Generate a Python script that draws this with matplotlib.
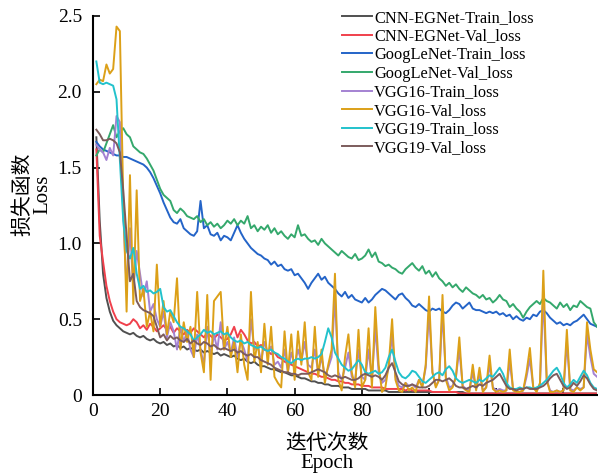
import numpy as np
import matplotlib
matplotlib.use("Agg")
import matplotlib.pyplot as plt
from matplotlib.ticker import FuncFormatter

plt.rcParams['font.family'] = ['Liberation Serif', 'Noto Sans CJK SC']
plt.rcParams['axes.unicode_minus'] = False

epochs = np.arange(1, 151)

cnn_train = [
    1.70, 1.15, 0.80, 0.64, 0.55, 0.49, 0.46, 0.44, 0.42, 0.41,
    0.40, 0.41, 0.39, 0.38, 0.39, 0.37, 0.36, 0.37, 0.35, 0.34,
    0.35, 0.33, 0.34, 0.32, 0.33, 0.31, 0.32, 0.30, 0.31, 0.30,
    0.29, 0.30, 0.28, 0.29, 0.28, 0.27, 0.28, 0.26, 0.27, 0.26,
    0.25, 0.26, 0.24, 0.23, 0.24, 0.22, 0.21, 0.22, 0.20, 0.19,
    0.19, 0.18, 0.17, 0.17, 0.16, 0.15, 0.15, 0.14, 0.13, 0.13,
    0.12, 0.11, 0.11, 0.10, 0.09, 0.09, 0.08, 0.08, 0.07, 0.07,
    0.06, 0.06, 0.06, 0.05, 0.05, 0.05, 0.04, 0.04, 0.04, 0.04,
    0.04, 0.03, 0.03, 0.03, 0.03, 0.03, 0.03, 0.02, 0.02, 0.02,
    0.02, 0.02, 0.02, 0.02, 0.02, 0.02, 0.02, 0.02, 0.02, 0.02,
    0.02, 0.02, 0.02, 0.02, 0.02, 0.02, 0.02, 0.02, 0.02, 0.02,
    0.01, 0.01, 0.01, 0.01, 0.01, 0.01, 0.01, 0.01, 0.01, 0.01,
    0.01, 0.01, 0.01, 0.01, 0.01, 0.01, 0.01, 0.01, 0.01, 0.01,
    0.01, 0.01, 0.01, 0.01, 0.01, 0.01, 0.01, 0.01, 0.01, 0.01,
    0.01, 0.01, 0.01, 0.01, 0.01, 0.01, 0.01, 0.01, 0.01, 0.01,
]

cnn_val = [
    1.62, 1.05, 0.88, 0.72, 0.62, 0.55, 0.50, 0.48, 0.47, 0.46,
    0.47, 0.50, 0.48, 0.44, 0.46, 0.43, 0.47, 0.45, 0.42, 0.44,
    0.46, 0.43, 0.45, 0.41, 0.44, 0.42, 0.40, 0.43, 0.41, 0.44,
    0.42, 0.40, 0.38, 0.41, 0.39, 0.37, 0.40, 0.38, 0.36, 0.37,
    0.40, 0.45, 0.38, 0.43, 0.40, 0.36, 0.34, 0.35, 0.32, 0.33,
    0.30, 0.29, 0.27, 0.28, 0.25, 0.24, 0.22, 0.21, 0.20, 0.19,
    0.18, 0.17, 0.16, 0.15, 0.14, 0.14, 0.13, 0.12, 0.12, 0.11,
    0.10, 0.10, 0.09, 0.09, 0.08, 0.08, 0.07, 0.07, 0.07, 0.06,
    0.06, 0.06, 0.05, 0.05, 0.05, 0.05, 0.04, 0.04, 0.04, 0.04,
    0.04, 0.04, 0.03, 0.04, 0.03, 0.03, 0.03, 0.03, 0.03, 0.03,
    0.02, 0.02, 0.02, 0.02, 0.02, 0.02, 0.02, 0.02, 0.01, 0.01,
    0.01, 0.01, 0.01, 0.01, 0.01, 0.01, 0.01, 0.01, 0.01, 0.01,
    0.01, 0.01, 0.01, 0.01, 0.01, 0.01, 0.01, 0.01, 0.01, 0.01,
    0.01, 0.01, 0.01, 0.01, 0.01, 0.01, 0.01, 0.01, 0.01, 0.01,
    0.01, 0.01, 0.01, 0.01, 0.01, 0.01, 0.01, 0.01, 0.01, 0.01,
]

goog_train = [
    1.67, 1.64, 1.62, 1.61, 1.60, 1.59, 1.58, 1.58, 1.57, 1.57,
    1.56, 1.55, 1.54, 1.53, 1.52, 1.50, 1.47, 1.43, 1.38, 1.33,
    1.27, 1.22, 1.17, 1.14, 1.13, 1.16, 1.10, 1.08, 1.06, 1.05,
    1.08, 1.28, 1.10, 1.12, 1.06, 1.05, 1.07, 1.02, 1.05, 1.04,
    1.02, 1.07, 1.12, 1.07, 1.03, 1.00, 0.97, 0.95, 0.93, 0.92,
    0.90, 0.89, 0.86, 0.88, 0.85, 0.86, 0.83, 0.82, 0.83, 0.79,
    0.80, 0.77, 0.74, 0.70, 0.74, 0.77, 0.80, 0.76, 0.78, 0.74,
    0.72, 0.70, 0.67, 0.65, 0.68, 0.64, 0.66, 0.63, 0.62, 0.61,
    0.64, 0.61, 0.63, 0.66, 0.68, 0.70, 0.69, 0.67, 0.65, 0.63,
    0.66, 0.67, 0.64, 0.62, 0.59, 0.58, 0.60, 0.58, 0.56, 0.55,
    0.57, 0.56, 0.57, 0.55, 0.54, 0.56, 0.59, 0.61, 0.60, 0.57,
    0.59, 0.61, 0.57, 0.56, 0.56, 0.55, 0.54, 0.55, 0.54, 0.55,
    0.53, 0.54, 0.52, 0.53, 0.50, 0.52, 0.50, 0.49, 0.51, 0.50,
    0.53, 0.52, 0.55, 0.56, 0.54, 0.51, 0.49, 0.47, 0.48, 0.46,
    0.47, 0.46, 0.48, 0.49, 0.51, 0.53, 0.50, 0.47, 0.46, 0.45,
]

goog_val = [
    1.58, 1.62, 1.60, 1.66, 1.72, 1.78, 1.70, 1.74, 1.76, 1.72,
    1.70, 1.64, 1.62, 1.60, 1.59, 1.56, 1.52, 1.48, 1.42, 1.36,
    1.32, 1.30, 1.28, 1.22, 1.20, 1.23, 1.21, 1.18, 1.17, 1.16,
    1.18, 1.14, 1.16, 1.12, 1.14, 1.11, 1.13, 1.10, 1.12, 1.15,
    1.13, 1.16, 1.12, 1.15, 1.13, 1.18, 1.10, 1.12, 1.08, 1.11,
    1.09, 1.12, 1.07, 1.10, 1.06, 1.08, 1.05, 1.03, 1.06, 1.04,
    1.12, 1.05, 1.06, 1.03, 1.01, 1.02, 0.99, 1.03, 1.00, 0.98,
    0.96, 0.94, 0.92, 0.95, 0.93, 0.91, 0.90, 0.93, 0.89, 0.90,
    0.92, 0.96, 0.91, 0.94, 0.88, 0.87, 0.85, 0.86, 0.84, 0.83,
    0.81, 0.80, 0.83, 0.85, 0.87, 0.84, 0.82, 0.85, 0.80, 0.82,
    0.78, 0.81, 0.77, 0.75, 0.72, 0.74, 0.71, 0.73, 0.70, 0.68,
    0.71, 0.69, 0.67, 0.66, 0.64, 0.66, 0.63, 0.64, 0.61, 0.63,
    0.66, 0.63, 0.62, 0.58, 0.60, 0.57, 0.55, 0.51, 0.55, 0.58,
    0.60, 0.62, 0.60, 0.64, 0.62, 0.61, 0.59, 0.57, 0.61, 0.58,
    0.60, 0.56, 0.59, 0.58, 0.62, 0.60, 0.58, 0.57, 0.48, 0.45,
]

vgg16_train = [
    1.65, 1.62, 1.60, 1.55, 1.63, 1.58, 1.84, 1.80, 1.20, 0.70,
    1.10, 0.70, 0.95, 0.80, 0.65, 0.75, 0.55, 0.60, 0.50, 0.45,
    0.55, 0.38, 0.48, 0.42, 0.30, 0.45, 0.35, 0.42, 0.30, 0.25,
    0.40, 0.30, 0.20, 0.45, 0.25, 0.40, 0.30, 0.48, 0.30, 0.35,
    0.28, 0.38, 0.25, 0.36, 0.30, 0.22, 0.50, 0.30, 0.33, 0.22,
    0.35, 0.28, 0.32, 0.20, 0.22, 0.18, 0.30, 0.15, 0.28, 0.20,
    0.30, 0.22, 0.35, 0.20, 0.18, 0.30, 0.15, 0.25, 0.12, 0.18,
    0.25, 0.65, 0.15, 0.10, 0.18, 0.28, 0.12, 0.10, 0.30, 0.12,
    0.10, 0.30, 0.10, 0.45, 0.15, 0.08, 0.10, 0.18, 0.40, 0.12,
    0.06, 0.05, 0.08, 0.06, 0.07, 0.05, 0.10, 0.06, 0.18, 0.55,
    0.15, 0.06, 0.10, 0.55, 0.12, 0.05, 0.06, 0.12, 0.30, 0.06,
    0.04, 0.03, 0.15, 0.04, 0.14, 0.03, 0.05, 0.20, 0.05, 0.03,
    0.04, 0.03, 0.03, 0.22, 0.04, 0.02, 0.02, 0.03, 0.12, 0.24,
    0.05, 0.03, 0.07, 0.65, 0.10, 0.03, 0.02, 0.03, 0.02, 0.03,
    0.35, 0.04, 0.03, 0.05, 0.04, 0.05, 0.40, 0.25, 0.14, 0.12,
]

vgg16_val = [
    2.05, 2.08, 2.07, 2.18, 2.12, 2.15, 2.43, 2.40, 1.30, 0.55,
    1.45, 0.60, 1.35, 0.62, 0.70, 0.45, 0.55, 0.42, 0.86, 0.45,
    0.62, 0.40, 0.55, 0.48, 0.77, 0.30, 0.48, 0.35, 0.45, 0.25,
    0.68, 0.28, 0.15, 0.66, 0.10, 0.62, 0.65, 0.68, 0.30, 0.45,
    0.25, 0.35, 0.15, 0.40, 0.20, 0.10, 0.68, 0.22, 0.35, 0.15,
    0.47, 0.20, 0.45, 0.12, 0.08, 0.05, 0.42, 0.15, 0.40, 0.10,
    0.42, 0.20, 0.48, 0.15, 0.10, 0.45, 0.12, 0.30, 0.08, 0.20,
    0.30, 0.80, 0.10, 0.03, 0.25, 0.40, 0.15, 0.05, 0.43, 0.05,
    0.10, 0.44, 0.05, 0.58, 0.20, 0.02, 0.05, 0.20, 0.50, 0.10,
    0.03, 0.02, 0.08, 0.03, 0.05, 0.02, 0.10, 0.05, 0.20, 0.65,
    0.15, 0.05, 0.10, 0.66, 0.10, 0.03, 0.05, 0.12, 0.38, 0.05,
    0.03, 0.02, 0.20, 0.03, 0.18, 0.02, 0.05, 0.26, 0.04, 0.02,
    0.03, 0.02, 0.03, 0.30, 0.03, 0.02, 0.02, 0.03, 0.15, 0.31,
    0.05, 0.02, 0.08, 0.82, 0.10, 0.02, 0.02, 0.03, 0.02, 0.03,
    0.43, 0.03, 0.02, 0.05, 0.03, 0.05, 0.48, 0.30, 0.17, 0.15,
]

vgg19_train = [
    2.20, 2.06, 2.05, 2.06, 2.05, 2.04, 1.95, 1.55, 1.15, 0.95,
    0.90, 0.97, 0.80, 0.70, 0.72, 0.68, 0.69, 0.67, 0.68, 0.70,
    0.58, 0.55, 0.56, 0.52, 0.48, 0.45, 0.44, 0.42, 0.40, 0.36,
    0.38, 0.40, 0.43, 0.41, 0.42, 0.40, 0.41, 0.42, 0.40, 0.41,
    0.38, 0.36, 0.35, 0.36, 0.34, 0.35, 0.33, 0.32, 0.31, 0.32,
    0.30, 0.29, 0.30, 0.28, 0.27, 0.25, 0.24, 0.22, 0.21, 0.23,
    0.24, 0.23, 0.24, 0.24, 0.25, 0.24, 0.25, 0.27, 0.35, 0.44,
    0.38, 0.28, 0.24, 0.20, 0.18, 0.16, 0.17, 0.20, 0.23, 0.20,
    0.15, 0.14, 0.15, 0.16, 0.14, 0.15, 0.18, 0.25, 0.30, 0.22,
    0.15, 0.12, 0.11, 0.13, 0.16, 0.15, 0.12, 0.09, 0.08, 0.10,
    0.12, 0.14, 0.15, 0.13, 0.17, 0.19, 0.16, 0.11, 0.09, 0.08,
    0.09, 0.10, 0.09, 0.08, 0.10, 0.09, 0.11, 0.13, 0.12, 0.15,
    0.18, 0.14, 0.08, 0.05, 0.04, 0.04, 0.05, 0.04, 0.05, 0.05,
    0.04, 0.05, 0.06, 0.08, 0.10, 0.13, 0.16, 0.18, 0.14, 0.08,
    0.05, 0.07, 0.10, 0.08, 0.12, 0.16, 0.13, 0.08, 0.05, 0.04,
]

vgg19_val = [
    1.75, 1.72, 1.68, 1.68, 1.69, 1.68, 1.66, 1.60, 1.35, 1.05,
    0.75, 0.80, 0.62, 0.58, 0.56, 0.55, 0.54, 0.52, 0.45, 0.38,
    0.40, 0.36, 0.39, 0.37, 0.38, 0.36, 0.35, 0.37, 0.34, 0.36,
    0.34, 0.33, 0.35, 0.34, 0.32, 0.33, 0.31, 0.30, 0.31, 0.30,
    0.29, 0.30, 0.28, 0.29, 0.27, 0.26, 0.27, 0.25, 0.25, 0.23,
    0.22, 0.21, 0.20, 0.18, 0.17, 0.16, 0.15, 0.15, 0.14, 0.14,
    0.13, 0.14, 0.14, 0.14, 0.15, 0.16, 0.17, 0.16, 0.15, 0.13,
    0.12, 0.13, 0.12, 0.11, 0.12, 0.11, 0.10, 0.10, 0.11, 0.13,
    0.14, 0.13, 0.12, 0.13, 0.12, 0.10, 0.13, 0.18, 0.21, 0.15,
    0.09, 0.07, 0.06, 0.06, 0.07, 0.06, 0.05, 0.05, 0.05, 0.06,
    0.08, 0.10, 0.10, 0.09, 0.10, 0.11, 0.09, 0.06, 0.05, 0.05,
    0.04, 0.05, 0.06, 0.05, 0.07, 0.06, 0.08, 0.09, 0.10, 0.12,
    0.14, 0.10, 0.06, 0.04, 0.04, 0.03, 0.04, 0.04, 0.05, 0.04,
    0.04, 0.04, 0.05, 0.06, 0.08, 0.11, 0.13, 0.14, 0.10, 0.06,
    0.04, 0.05, 0.08, 0.06, 0.09, 0.13, 0.11, 0.07, 0.04, 0.03,
]

labels = ['CNN-EGNet-Train_loss', 'CNN-EGNet-Val_loss',
          'GoogLeNet-Train_loss', 'GoogLeNet-Val_loss',
          'VGG16-Train_loss', 'VGG16-Val_loss',
          'VGG19-Train_loss', 'VGG19-Val_loss']
series = [cnn_train, cnn_val, goog_train, goog_val,
          vgg16_train, vgg16_val, vgg19_train, vgg19_val]
colors = ['#505050', '#f0404c', '#2464c8', '#34a86c',
          '#a482d2', '#dca018', '#22c2cc', '#7c5c5c']

fig = plt.figure(figsize=(5.98, 4.75), dpi=100)
ax = fig.add_axes([0.1555, 0.1684, 0.843, 0.798])

for y, c, lab in zip(series, colors, labels):
    ax.plot(epochs, y, color=c, lw=1.4, label=lab)

ax.set_xlim(0, 150)
ax.set_ylim(0, 2.5)
ax.set_xticks(np.arange(0, 141, 20))
ax.set_yticks([0, 0.5, 1.0, 1.5, 2.0, 2.5])
ax.yaxis.set_major_formatter(FuncFormatter(lambda v, p: '0' if v == 0 else f'{v:.1f}'))
ax.tick_params(direction='in', length=5, width=1.2, labelsize=14)
ax.tick_params(axis='x', pad=6)
ax.tick_params(axis='y', pad=8)
for s in ['top', 'right']:
    ax.spines[s].set_visible(False)
for s in ['left', 'bottom']:
    ax.spines[s].set_linewidth(1.5)

ax.set_xlabel('迭代次数\nEpoch', fontsize=15, linespacing=1.0)
ax.xaxis.set_label_coords(0.465, -0.105, transform=ax.transAxes)
ax.xaxis.label.set_va('top')
ax.set_ylabel('损失函数\nLoss', fontsize=15, linespacing=1.0)
ax.yaxis.label.set_va('center')
ax.yaxis.set_label_coords(-0.12, 0.53, transform=ax.transAxes)

ax.legend(loc='upper left', bbox_to_anchor=(0.465, 1.055), frameon=False,
          fontsize=11.8, handlelength=1.8, handletextpad=0.15, labelspacing=0.16)

fig.savefig('out.png', dpi=100)
